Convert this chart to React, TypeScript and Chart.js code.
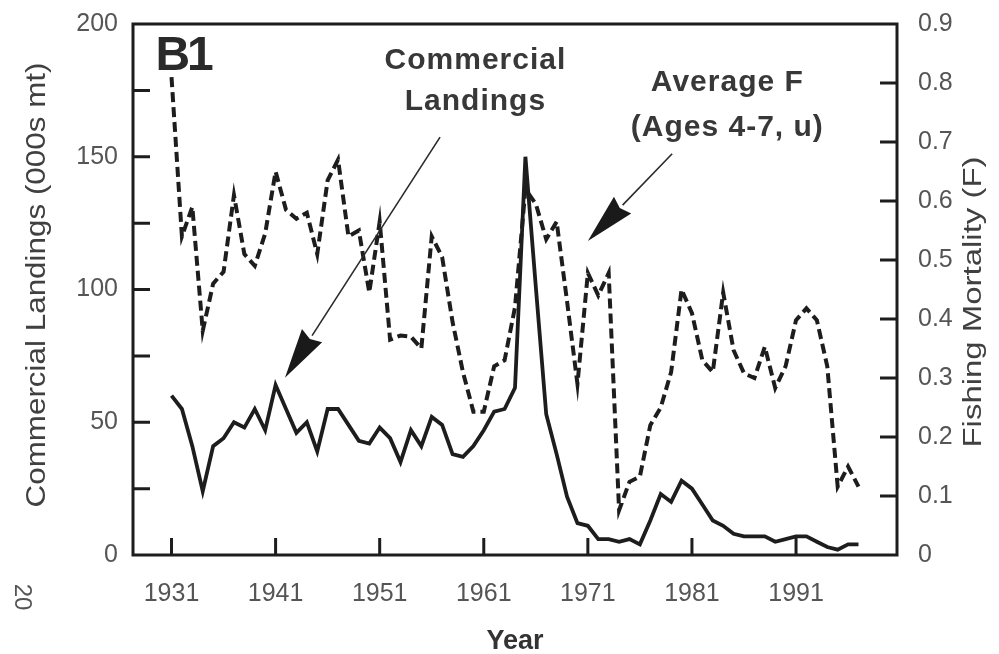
import React, { useEffect, useRef } from "react";
import { Chart, registerables } from "chart.js";

Chart.register(...registerables);

// ---------------- data ----------------
const years = [
  1931, 1932, 1933, 1934, 1935, 1936, 1937, 1938, 1939, 1940,
  1941, 1942, 1943, 1944, 1945, 1946, 1947, 1948, 1949, 1950,
  1951, 1952, 1953, 1954, 1955, 1956, 1957, 1958, 1959, 1960,
  1961, 1962, 1963, 1964, 1965, 1966, 1967, 1968, 1969, 1970,
  1971, 1972, 1973, 1974, 1975, 1976, 1977, 1978, 1979, 1980,
  1981, 1982, 1983, 1984, 1985, 1986, 1987, 1988, 1989, 1990,
  1991, 1992, 1993, 1994, 1995, 1996, 1997,
];

// Commercial landings (000s mt), left axis
const landings = [
  60, 55, 41, 24, 41, 44, 50, 48, 55, 47,
  64, 55, 46, 50, 39, 55, 55, 49, 43, 42,
  48, 44, 35, 47, 41, 52, 49, 38, 37, 41,
  47, 54, 55, 63, 150, 101, 53, 38, 22, 12,
  11, 6, 6, 5, 6, 4, 13, 23, 20, 28,
  25, 19, 13, 11, 8, 7, 7, 7, 5, 6,
  7, 7, 5, 3, 2, 4, 4,
];

// Average F (ages 4-7, u), right axis
const averageF = [
  0.81, 0.54, 0.59, 0.38, 0.46, 0.48, 0.61, 0.51, 0.49, 0.545,
  0.65, 0.585, 0.57, 0.58, 0.51, 0.635, 0.67, 0.54, 0.55, 0.445,
  0.565, 0.365, 0.372, 0.37, 0.35, 0.54, 0.505, 0.395, 0.31, 0.243,
  0.243, 0.32, 0.33, 0.42, 0.62, 0.595, 0.535, 0.565, 0.43, 0.29,
  0.478, 0.44, 0.478, 0.076, 0.124, 0.133, 0.22, 0.25, 0.31, 0.45,
  0.41, 0.33, 0.31, 0.445, 0.347, 0.308, 0.3, 0.353, 0.283, 0.32,
  0.398, 0.418, 0.398, 0.32, 0.116, 0.15, 0.116,
];

const yearTicks = [1931, 1941, 1951, 1961, 1971, 1981, 1991];
const landingsTicks = [0, 50, 100, 150, 200];
const landingsMarks = [25, 50, 75, 100, 125, 150, 175];
const fTicks = [0, 0.1, 0.2, 0.3, 0.4, 0.5, 0.6, 0.7, 0.8, 0.9];

// ---------------- styles ----------------
const FONT = "'Liberation Sans', Arial, Helvetica, sans-serif";
const INK = "#1d1d1d";
const GREY = "#555555";
const TEXT = "#383838";

// annotation anchors, in data units (year, landings or F)
const labelB1 = { text: "B1", year: 1929.45, landings: 187.5 };
const labelLandings = { lines: ["Commercial", "Landings"], year: 1960.2, landings: [186, 170.6] };
const labelF = { lines: ["Average F", "(Ages 4-7, u)"], year: 1984.4, f: [0.8, 0.725] };
const arrowLandings = { from: [1956.8, 157.4], to: [1941.9, 66.8] };
const arrowF = { from: [1979.1, 0.68], to: [1971.0, 0.532] };

function drawArrow(ctx: CanvasRenderingContext2D, x0: number, y0: number, x1: number, y1: number) {
  const dx = x1 - x0, dy = y1 - y0;
  const len = Math.hypot(dx, dy);
  const ux = dx / len, uy = dy / len;
  const headLen = 50, headHalf = 12;
  const bx = x1 - ux * headLen, by = y1 - uy * headLen;
  ctx.beginPath();
  ctx.lineWidth = 1.6;
  ctx.strokeStyle = "#2a2a2a";
  ctx.moveTo(x0, y0);
  ctx.lineTo(bx, by);
  ctx.stroke();
  ctx.beginPath();
  ctx.fillStyle = "#1a1a1a";
  ctx.moveTo(x1, y1);
  ctx.lineTo(bx - uy * headHalf, by + ux * headHalf);
  ctx.lineTo(bx + ux * 4, by + uy * 4);
  ctx.lineTo(bx + uy * headHalf, by - ux * headHalf);
  ctx.closePath();
  ctx.fill();
}

function drawStretchedRotated(
  ctx: CanvasRenderingContext2D, text: string, cx: number, cy: number,
  size: number, targetLen: number, color: string, angle: number
) {
  ctx.save();
  ctx.font = `400 ${size}px ${FONT}`;
  const w = ctx.measureText(text).width;
  ctx.translate(cx, cy);
  ctx.rotate(angle);
  ctx.scale(targetLen / w, 1);
  ctx.fillStyle = color;
  ctx.textAlign = "center";
  ctx.textBaseline = "middle";
  ctx.fillText(text, 0, 0);
  ctx.restore();
}

const decorPlugin = {
  id: "decor",
  afterDatasetsDraw(chart: any) {
    const { ctx, chartArea: a, scales } = chart;
    const sx = scales.x, sy = scales.y, sf = scales.y1;
    ctx.save();

    // inward tick marks
    ctx.strokeStyle = INK;
    ctx.lineWidth = 3;
    ctx.beginPath();
    landingsMarks.forEach((v) => {
      const py = sy.getPixelForValue(v);
      ctx.moveTo(a.left, py);
      ctx.lineTo(a.left + 17, py);
    });
    fTicks.forEach((v) => {
      if (v === 0 || v === 0.9) return;
      const py = sf.getPixelForValue(v);
      ctx.moveTo(a.right, py);
      ctx.lineTo(a.right - 17, py);
    });
    yearTicks.forEach((v) => {
      const px = sx.getPixelForValue(v);
      ctx.moveTo(px, a.bottom);
      ctx.lineTo(px, a.bottom - 17);
    });
    ctx.stroke();

    // frame
    ctx.lineWidth = 3;
    ctx.strokeRect(a.left, a.top, a.right - a.left, a.bottom - a.top);

    // B1
    ctx.fillStyle = "#2a2a2a";
    ctx.font = `700 48px ${FONT}`;
    (ctx as any).letterSpacing = "-3px";
    ctx.textAlign = "left";
    ctx.textBaseline = "middle";
    ctx.fillText(labelB1.text, sx.getPixelForValue(labelB1.year), sy.getPixelForValue(labelB1.landings));

    // series labels
    ctx.fillStyle = TEXT;
    ctx.font = `700 30px ${FONT}`;
    (ctx as any).letterSpacing = "1px";
    ctx.textAlign = "center";
    labelLandings.lines.forEach((t, i) => {
      ctx.fillText(t, sx.getPixelForValue(labelLandings.year), sy.getPixelForValue(labelLandings.landings[i]));
    });
    labelF.lines.forEach((t, i) => {
      ctx.fillText(t, sx.getPixelForValue(labelF.year), sf.getPixelForValue(labelF.f[i]));
    });
    (ctx as any).letterSpacing = "0px";

    // arrows
    drawArrow(
      ctx,
      sx.getPixelForValue(arrowLandings.from[0]), sy.getPixelForValue(arrowLandings.from[1]),
      sx.getPixelForValue(arrowLandings.to[0]), sy.getPixelForValue(arrowLandings.to[1])
    );
    drawArrow(
      ctx,
      sx.getPixelForValue(arrowF.from[0]), sf.getPixelForValue(arrowF.from[1]),
      sx.getPixelForValue(arrowF.to[0]), sf.getPixelForValue(arrowF.to[1])
    );

    // axis titles (rotated)
    drawStretchedRotated(ctx, "Commercial Landings (000s mt)", 37, 285, 28, 445, "#404040", -Math.PI / 2);
    drawStretchedRotated(ctx, "Fishing Mortality (F)", 974, 302, 26, 291, "#404040", -Math.PI / 2);

    // page number
    ctx.save();
    ctx.translate(22, 597);
    ctx.rotate(Math.PI / 2);
    ctx.font = `400 24px ${FONT}`;
    ctx.fillStyle = "#555";
    ctx.textAlign = "center";
    ctx.textBaseline = "middle";
    ctx.fillText("20", 0, 0);
    ctx.restore();

    ctx.restore();
  },
};

export default function App() {
  const canvasRef = useRef<HTMLCanvasElement | null>(null);

  useEffect(() => {
    if (!canvasRef.current) return;
    const tickFont = { family: FONT, size: 25, weight: "400" as any };
    const chart = new Chart(canvasRef.current, {
      type: "line",
      data: {
        datasets: [
          {
            label: "Commercial Landings",
            data: years.map((yr, i) => ({ x: yr, y: landings[i] })),
            yAxisID: "y",
            borderColor: INK,
            borderWidth: 3.8,
            pointRadius: 0,
            tension: 0,
            fill: false,
          },
          {
            label: "Average F (Ages 4-7, u)",
            data: years.map((yr, i) => ({ x: yr, y: averageF[i] })),
            yAxisID: "y1",
            borderColor: INK,
            borderWidth: 4,
            borderDash: [10, 5],
            pointRadius: 0,
            tension: 0,
            fill: false,
          },
        ],
      },
      options: {
        responsive: false,
        animation: false,
        devicePixelRatio: 1,
        layout: { padding: { top: 24, left: 0, right: 0, bottom: 0 } },
        plugins: { legend: { display: false }, tooltip: { enabled: false } },
        scales: {
          x: {
            type: "linear",
            min: 1927.3,
            max: 2000.7,
            grid: { display: false, drawTicks: false },
            border: { display: false },
            afterBuildTicks: (s: any) => {
              s.ticks = yearTicks.map((v) => ({ value: v }));
            },
            afterFit: (s: any) => {
              s.height = 99;
              s.paddingLeft = 0;
              s.paddingRight = 0;
            },
            ticks: {
              callback: (v: any) => String(v),
              font: tickFont,
              color: GREY,
              padding: 24,
              maxRotation: 0,
              autoSkip: false,
            },
            title: {
              display: true,
              text: "Year",
              font: { family: FONT, size: 27, weight: "bold" },
              color: "#333",
              padding: { top: 0, bottom: -4 },
            },
          },
          y: {
            position: "left",
            min: 0,
            max: 200,
            grid: { display: false, drawTicks: false },
            border: { display: false },
            afterBuildTicks: (s: any) => {
              s.ticks = landingsTicks.map((v) => ({ value: v }));
            },
            afterFit: (s: any) => {
              s.width = 133;
              s.paddingTop = 0;
              s.paddingBottom = 0;
            },
            ticks: { font: tickFont, color: GREY, padding: 15 },
          },
          y1: {
            position: "right",
            min: 0,
            max: 0.9,
            grid: { display: false, drawTicks: false },
            border: { display: false },
            afterBuildTicks: (s: any) => {
              s.ticks = fTicks.map((v) => ({ value: v }));
            },
            afterFit: (s: any) => {
              s.width = 102;
              s.paddingTop = 0;
              s.paddingBottom = 0;
            },
            ticks: {
              callback: (v: any) => (Number(v) === 0 ? "0" : Number(v).toFixed(1)),
              font: tickFont,
              color: GREY,
              padding: 21,
            },
          },
        },
      },
      plugins: [decorPlugin],
    });
    return () => chart.destroy();
  }, []);

  return (
    <div style={{ position: "absolute", left: 0, top: 0, width: 999, height: 654, background: "#fff" }}>
      <canvas ref={canvasRef} width={999} height={654} style={{ display: "block" }} />
    </div>
  );
}
